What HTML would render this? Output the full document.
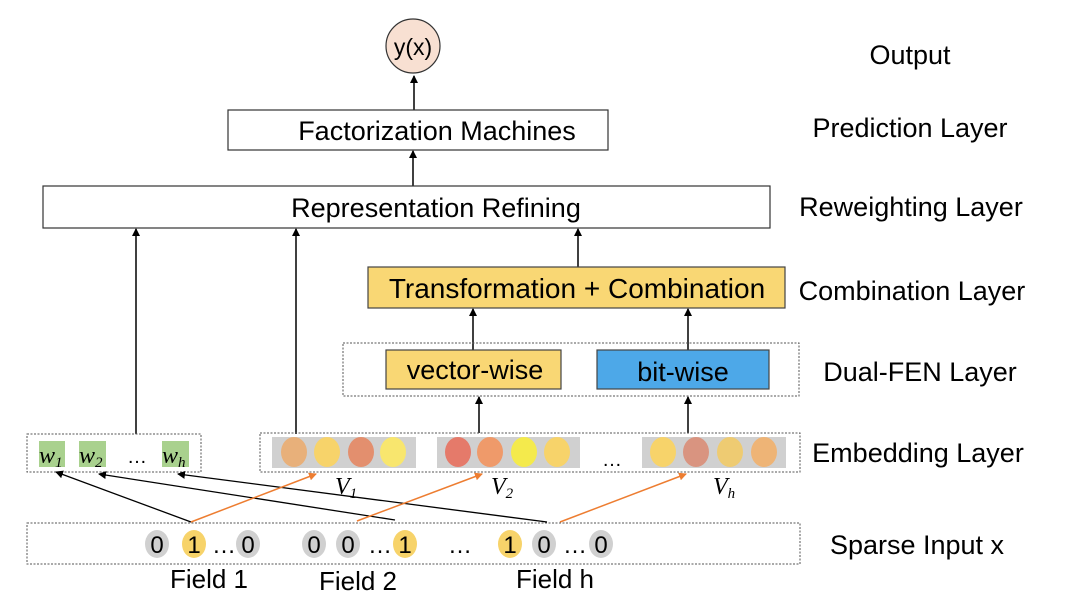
<!DOCTYPE html>
<html><head><meta charset="utf-8"><style>
html,body{margin:0;padding:0;background:#fff;}
svg{display:block;font-family:"Liberation Sans",sans-serif;}
</style></head><body>
<svg width="1080" height="616" viewBox="0 0 1080 616" xmlns="http://www.w3.org/2000/svg">
<defs>
<marker id="a" markerWidth="8" markerHeight="8" refX="7" refY="4" orient="auto" markerUnits="userSpaceOnUse"><path d="M0,0 L8,4 L0,8 z" fill="#000"/></marker>
<marker id="o" markerWidth="8" markerHeight="8" refX="7" refY="4" orient="auto" markerUnits="userSpaceOnUse"><path d="M0,0 L8,4 L0,8 z" fill="#ed7d31"/></marker>
</defs>
<rect width="1080" height="616" fill="#fff"/>
<ellipse cx="413" cy="46" rx="27" ry="27" fill="#f8e0d2" stroke="#333" stroke-width="1.2"/>
<text x="413" y="55" font-size="23" text-anchor="middle">y(x)</text>
<line x1="414" y1="110" x2="414" y2="76" stroke="#000" stroke-width="1.5" marker-end="url(#a)"/>
<rect x="228" y="110" width="380" height="40" fill="#fff" stroke="#333" stroke-width="1.2"/>
<text x="437" y="140" font-size="27" text-anchor="middle">Factorization Machines</text>
<line x1="413" y1="186" x2="413" y2="151" stroke="#000" stroke-width="1.5" marker-end="url(#a)"/>
<rect x="43" y="186" width="727" height="42" fill="#fff" stroke="#333" stroke-width="1.2"/>
<text x="436" y="217" font-size="27" text-anchor="middle">Representation Refining</text>
<line x1="136" y1="434" x2="136" y2="229" stroke="#000" stroke-width="1.5" marker-end="url(#a)"/>
<line x1="296" y1="434" x2="296" y2="229" stroke="#000" stroke-width="1.5" marker-end="url(#a)"/>
<line x1="578" y1="267" x2="578" y2="229" stroke="#000" stroke-width="1.5" marker-end="url(#a)"/>
<rect x="368" y="267" width="417" height="41" fill="#f9d774" stroke="#444" stroke-width="1.2"/>
<text x="577" y="298" font-size="28" text-anchor="middle">Transformation + Combination</text>
<line x1="473" y1="350" x2="473" y2="309" stroke="#000" stroke-width="1.5" marker-end="url(#a)"/>
<line x1="688" y1="350" x2="688" y2="309" stroke="#000" stroke-width="1.5" marker-end="url(#a)"/>
<rect x="343" y="343" width="456" height="53" fill="none" stroke="#555" stroke-width="1" stroke-dasharray="2,1.5"/>
<rect x="386" y="350" width="175" height="39" fill="#f9d774" stroke="#444" stroke-width="1.2"/>
<text x="475" y="379" font-size="27" text-anchor="middle">vector-wise</text>
<rect x="597" y="350" width="172" height="39" fill="#4da8e8" stroke="#444" stroke-width="1.2"/>
<text x="683" y="381" font-size="27" text-anchor="middle">bit-wise</text>
<line x1="479" y1="433" x2="479" y2="397" stroke="#000" stroke-width="1.5" marker-end="url(#a)"/>
<line x1="688" y1="433" x2="688" y2="397" stroke="#000" stroke-width="1.5" marker-end="url(#a)"/>
<rect x="27" y="434" width="174" height="38" fill="none" stroke="#555" stroke-width="1" stroke-dasharray="2,1.5"/>
<rect x="39" y="441" width="26" height="26" fill="#a9d18e"/>
<rect x="79" y="441" width="27" height="26" fill="#a9d18e"/>
<rect x="162" y="441" width="27" height="26" fill="#a9d18e"/>
<g font-family="Liberation Serif,serif" font-style="italic" font-size="24">
<text x="39" y="463">w<tspan font-size="15" dy="4">1</tspan></text>
<text x="79" y="463">w<tspan font-size="15" dy="4">2</tspan></text>
<text x="162" y="463">w<tspan font-size="15" dy="4">h</tspan></text>
<text x="335" y="494">V<tspan font-size="15" dy="4">1</tspan></text>
<text x="491" y="494">V<tspan font-size="15" dy="4">2</tspan></text>
<text x="713" y="494">V<tspan font-size="15" dy="4">h</tspan></text>
</g>
<text x="127" y="463" font-size="20">…</text>
<rect x="260" y="433" width="540" height="39" fill="none" stroke="#555" stroke-width="1" stroke-dasharray="2,1.5"/>
<rect x="272" y="437" width="144" height="31" fill="#d0d0d0"/>
<rect x="437" y="437" width="143" height="31" fill="#d0d0d0"/>
<rect x="642" y="437" width="144" height="31" fill="#d0d0d0"/>
<g>
<ellipse cx="294" cy="452" rx="13" ry="15" fill="#e8b07a"/>
<ellipse cx="327" cy="452" rx="13" ry="15" fill="#f7d36a"/>
<ellipse cx="361" cy="452" rx="13" ry="15" fill="#e38f6e"/>
<ellipse cx="393" cy="452" rx="13" ry="15" fill="#f8e66e"/>
<ellipse cx="458" cy="452" rx="13" ry="15" fill="#e57a6a"/>
<ellipse cx="490" cy="452" rx="13" ry="15" fill="#ef9a6a"/>
<ellipse cx="524" cy="452" rx="13" ry="15" fill="#f4ea4c"/>
<ellipse cx="557" cy="452" rx="13" ry="15" fill="#f7d36a"/>
<ellipse cx="663" cy="452" rx="13" ry="15" fill="#f7d36a"/>
<ellipse cx="696" cy="452" rx="13" ry="15" fill="#d99480"/>
<ellipse cx="730" cy="452" rx="13" ry="15" fill="#eecb72"/>
<ellipse cx="764" cy="452" rx="13" ry="15" fill="#eeb476"/>
</g>
<text x="602" y="466" font-size="20">…</text>
<rect x="27" y="523" width="773" height="41" fill="none" stroke="#555" stroke-width="1" stroke-dasharray="2,1.5"/>
<g font-size="24" text-anchor="middle">
<ellipse cx="157" cy="544" rx="12" ry="14" fill="#d0d0d0"/><text x="157" y="553">0</text>
<ellipse cx="194" cy="544" rx="12" ry="14" fill="#f7d36a"/><text x="194" y="553">1</text>
<text x="224" y="553">…</text>
<ellipse cx="248" cy="544" rx="12" ry="14" fill="#d0d0d0"/><text x="248" y="553">0</text>
<ellipse cx="314" cy="544" rx="12" ry="14" fill="#d0d0d0"/><text x="314" y="553">0</text>
<ellipse cx="348" cy="544" rx="12" ry="14" fill="#d0d0d0"/><text x="348" y="553">0</text>
<text x="380" y="553">…</text>
<ellipse cx="405" cy="544" rx="12" ry="14" fill="#f7d36a"/><text x="405" y="553">1</text>
<text x="460" y="553">…</text>
<ellipse cx="510" cy="544" rx="12" ry="14" fill="#f7d36a"/><text x="510" y="553">1</text>
<ellipse cx="544" cy="544" rx="12" ry="14" fill="#d0d0d0"/><text x="544" y="553">0</text>
<text x="575" y="553">…</text>
<ellipse cx="601" cy="544" rx="12" ry="14" fill="#d0d0d0"/><text x="601" y="553">0</text>
</g>
<g font-size="26" text-anchor="middle">
<text x="209" y="588">Field 1</text>
<text x="358" y="590">Field 2</text>
<text x="555" y="588">Field h</text>
</g>
<line x1="191" y1="522" x2="56" y2="472" stroke="#000" stroke-width="1.3" marker-end="url(#a)"/>
<line x1="395" y1="520" x2="99" y2="474" stroke="#000" stroke-width="1.3" marker-end="url(#a)"/>
<line x1="547" y1="522" x2="178" y2="474" stroke="#000" stroke-width="1.3" marker-end="url(#a)"/>
<line x1="191" y1="522" x2="316" y2="474" stroke="#ed7d31" stroke-width="1.5" marker-end="url(#o)"/>
<line x1="357" y1="521" x2="482" y2="474" stroke="#ed7d31" stroke-width="1.5" marker-end="url(#o)"/>
<line x1="560" y1="522" x2="686" y2="474" stroke="#ed7d31" stroke-width="1.5" marker-end="url(#o)"/>
<g font-size="27" text-anchor="middle">
<text x="910" y="64">Output</text>
<text x="910" y="137">Prediction Layer</text>
<text x="911" y="216">Reweighting Layer</text>
<text x="912" y="300">Combination Layer</text>
<text x="920" y="381">Dual-FEN Layer</text>
<text x="918" y="462">Embedding Layer</text>
<text x="917" y="554">Sparse Input x</text>
</g>
</svg>
</body></html>
